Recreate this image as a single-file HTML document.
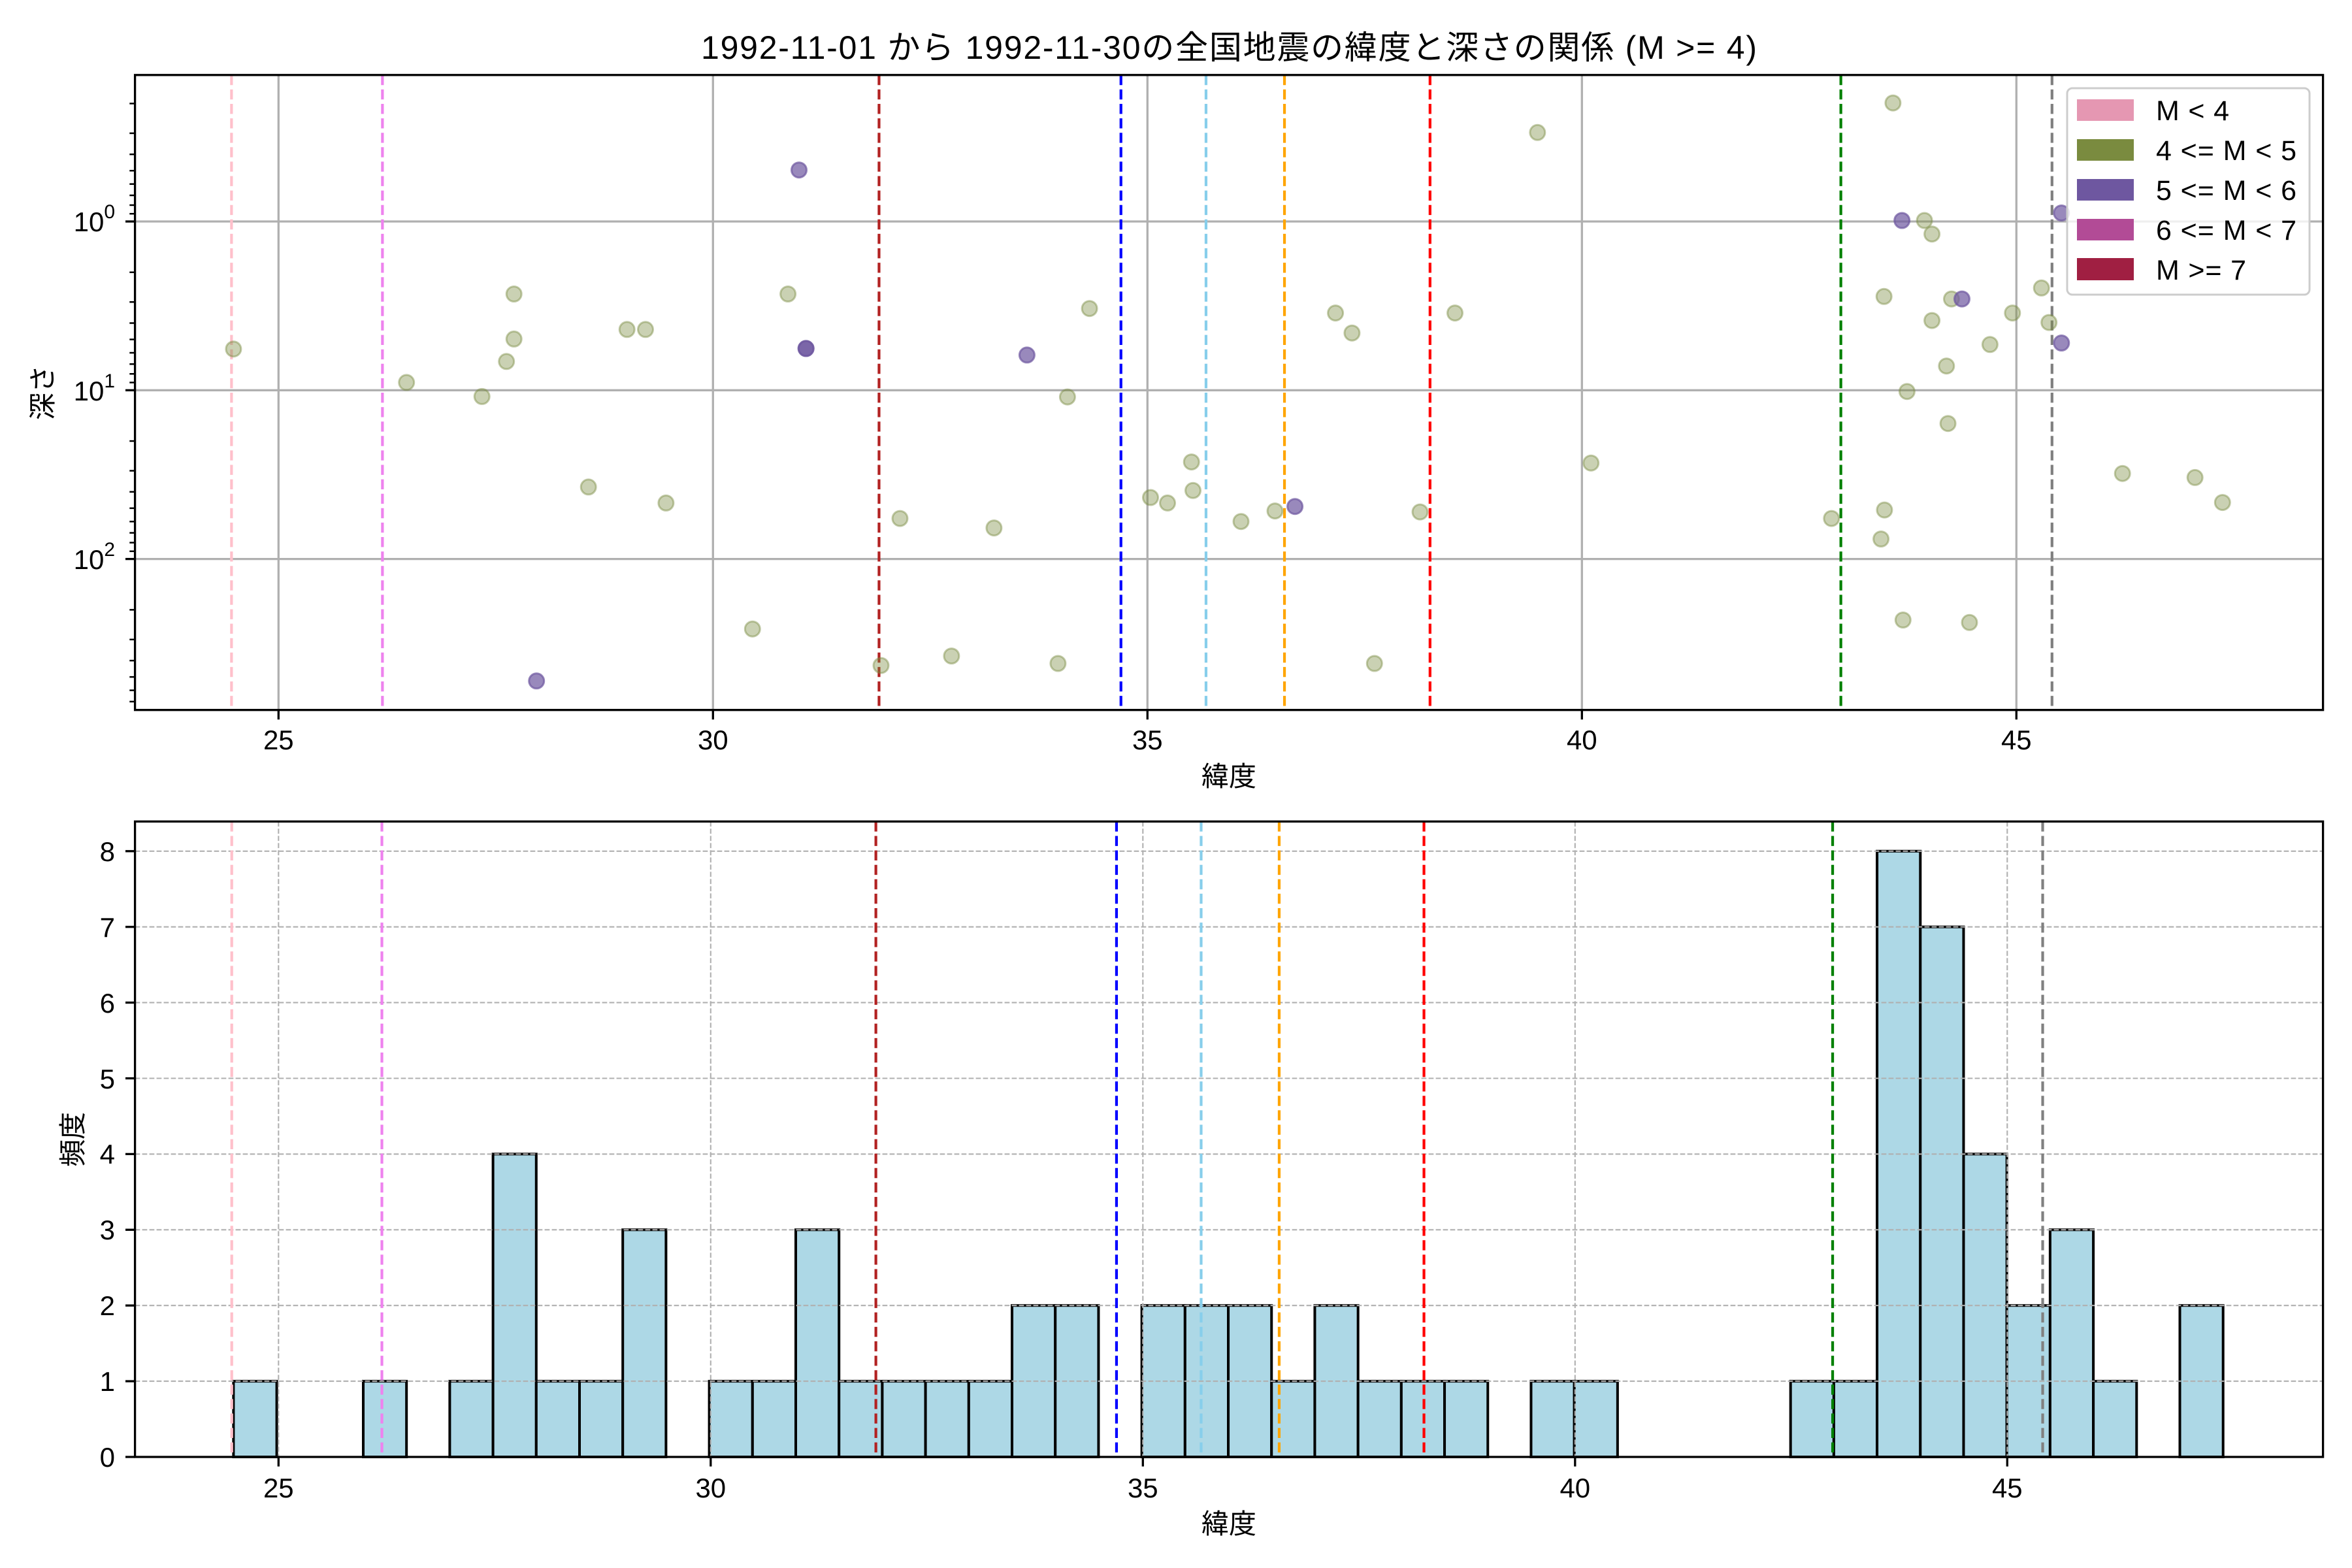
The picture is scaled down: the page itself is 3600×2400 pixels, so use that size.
<!DOCTYPE html>
<html><head><meta charset="utf-8">
<style>
html,body{margin:0;padding:0;background:#fff;}
svg{display:block;font-family:"Liberation Sans","Noto Sans CJK JP",sans-serif;}
text{fill:#000;}
</style></head>
<body>
<svg id="s" width="3600" height="2400" viewBox="0 0 3600 2400" xmlns="http://www.w3.org/2000/svg">
<rect width="3600" height="2400" fill="#fff"/>
<g id="top"></g>
<g id="bot"></g>
<text x="1881" y="90" font-size="50" text-anchor="middle" textLength="1616" lengthAdjust="spacing">1992-11-01 から 1992-11-30の全国地震の緯度と深さの関係 (M &gt;= 4)</text>
<text x="1881" y="1203" font-size="42" text-anchor="middle">緯度</text>
<text x="1881" y="2347" font-size="42" text-anchor="middle">緯度</text>
<text transform="translate(80,601) rotate(-90)" font-size="42" text-anchor="middle">深さ</text>
<text transform="translate(126,1744) rotate(-90)" font-size="42" text-anchor="middle">頻度</text>
<g font-size="42" text-anchor="middle">
<text x="426.3" y="1147">25</text>
<text x="1091.3" y="1147">30</text>
<text x="1756.3" y="1147">35</text>
<text x="2421.3" y="1147">40</text>
<text x="3086.3" y="1147">45</text>
</g>
<g font-size="42" text-anchor="end">
<text x="176" y="354">10<tspan font-size="30" dy="-20">0</tspan></text>
<text x="176" y="613">10<tspan font-size="30" dy="-20">1</tspan></text>
<text x="176" y="871">10<tspan font-size="30" dy="-20">2</tspan></text>
</g>
<g font-size="42" text-anchor="middle">
<text x="426.3" y="2292">25</text>
<text x="1087.8" y="2292">30</text>
<text x="1749.3" y="2292">35</text>
<text x="2410.8" y="2292">40</text>
<text x="3072.3" y="2292">45</text>
</g>
<g font-size="42" text-anchor="end">
<text x="176" y="2245">0</text>
<text x="176" y="2129">1</text>
<text x="176" y="2013">2</text>
<text x="176" y="1897">3</text>
<text x="176" y="1781">4</text>
<text x="176" y="1666">5</text>
<text x="176" y="1550">6</text>
<text x="176" y="1434">7</text>
<text x="176" y="1318">8</text>
</g>
<g id="legend">
<rect x="3164" y="135" width="371" height="316" rx="8" fill="#fff" fill-opacity="0.8" stroke="#cccccc" stroke-width="3"/>
<rect x="3179" y="152" width="87" height="33" fill="#e597b2"/>
<rect x="3179" y="213" width="87" height="33" fill="#7a8b3f"/>
<rect x="3179" y="274" width="87" height="33" fill="#6e57a0"/>
<rect x="3179" y="335" width="87" height="33" fill="#b24b96"/>
<rect x="3179" y="395" width="87" height="34" fill="#a01f42"/>
<g font-size="43">
<text x="3300" y="184" textLength="112" lengthAdjust="spacing">M &lt; 4</text>
<text x="3300" y="245" textLength="215" lengthAdjust="spacing">4 &lt;= M &lt; 5</text>
<text x="3300" y="306" textLength="215" lengthAdjust="spacing">5 &lt;= M &lt; 6</text>
<text x="3300" y="367" textLength="215" lengthAdjust="spacing">6 &lt;= M &lt; 7</text>
<text x="3300" y="428" textLength="138" lengthAdjust="spacing">M &gt;= 7</text>
</g>
</g>
</svg>
<script>
(function(){
var NS="http://www.w3.org/2000/svg";
function el(p,tag,a){var e=document.createElementNS(NS,tag);for(var k in a)e.setAttribute(k,a[k]);p.appendChild(e);return e;}
var top=document.getElementById('top'), bot=document.getElementById('bot');
var L=206.6,R=3555.6;
var T0=114.8,T1=1086.7;
function XT(l){return 426.3+(l-25)*133;}
function YT(lg){return 339+258.3*lg;}
[25,30,35,40,45].forEach(function(v){var x=XT(v);el(top,'line',{x1:x,x2:x,y1:T0,y2:T1,stroke:'#b0b0b0','stroke-width':3.3});});
[0,1,2].forEach(function(d){var y=YT(d);el(top,'line',{x1:L,x2:R,y1:y,y2:y,stroke:'#b0b0b0','stroke-width':3.3});});
var vl=[[24.459,'pink'],[26.196,'violet'],[31.911,'firebrick'],[34.695,'blue'],[35.674,'skyblue'],[36.577,'orange'],[38.252,'red'],[42.98,'green'],[45.41,'gray']];
vl.forEach(function(v){var x=XT(v[0]);el(top,'line',{x1:x,x2:x,y1:T0,y2:T1,stroke:v[1],'stroke-width':4.2,'stroke-dasharray':'15.4 6.7'});});
var G=[[357.4,534.2],[622.2,585.4],[737.7,606.9],[775.2,553.3],[786.7,518.9],[786.7,450],[900.7,745.4],[959.7,504.3],[988,504.3],[1019.4,769.9],[1151.8,962.7],[1206.1,450],
[1667.6,472.2],[1633.9,607.6],[1377.5,793.6],[1521.4,808.1],[1348.5,1018.6],[1456.4,1004.1],[1619.4,1015.5],[1761,761.5],[1787,769.9],[1823.7,707.1],[1826,750.8],[1899.5,798.2],[1951.5,782.1],[2044.1,479.1],[2069.4,509.7],[2103.8,1015.5],[2173.5,783.6],[2227,479.1],[2353.3,202.8],
[2435.2,708.7],[2897.4,157.6],[2945.6,337.5],[2957.1,358.2],[2883.7,453.8],[2987,457.6],[2957.1,490.6],[3080.3,479.1],[3124.7,440.8],[3136.2,493.6],[3045.9,527.3],[2979.3,560.2],[2918.9,599.2],[2981.6,648.2],[3248.7,724.7],[3359.7,730.9],[3401.8,769.1],[2884.4,780.6],[2803.3,793.6],[2879.1,825],[2912.8,949],[3014.5,952.8]];
var P=[[821.2,1042.3],[1223,260.2],[1233.7,533.4],[1233.7,533.4],[1571.9,543.4],[1982.1,775.2],[2911.2,337.5],[3003,457.6],[3155.3,525],[3155.3,326]];
G.forEach(function(p){el(top,'circle',{cx:p[0],cy:p[1],r:11.5,fill:'#7a8b42','fill-opacity':0.4,stroke:'#7a8b42','stroke-opacity':0.45,'stroke-width':3});});
P.forEach(function(p){el(top,'circle',{cx:p[0],cy:p[1],r:11.5,fill:'#6e57a0','fill-opacity':0.7,stroke:'#6e57a0','stroke-opacity':0.7,'stroke-width':3});});
for(var d=-1;d<=2;d++){for(var k=2;k<=9;k++){var lg=d+Math.log10(k);var y=YT(lg);if(y<T0||y>T1)continue;el(top,'line',{x1:L-8.3,x2:L,y1:y,y2:y,stroke:'#000','stroke-width':2.5});}}
[0,1,2].forEach(function(d){var y=YT(d);el(top,'line',{x1:L-14.6,x2:L,y1:y,y2:y,stroke:'#000','stroke-width':3.3});});
[25,30,35,40,45].forEach(function(v){var x=XT(v);el(top,'line',{x1:x,x2:x,y1:T1,y2:T1+14.6,stroke:'#000','stroke-width':3.3});});
el(top,'rect',{x:L,y:T0,width:R-L,height:T1-T0,fill:'none',stroke:'#000','stroke-width':3.3});
var B0=1257.4,B1=2230;
function XB(l){return 426.3+(l-25)*132.3;}
function YB(c){return B1-c*115.9;}
var counts={0:1,3:1,5:1,6:4,7:1,8:1,9:3,11:1,12:1,13:3,14:1,15:1,16:1,17:1,18:2,19:2,21:2,22:2,23:2,24:1,25:2,26:1,27:1,28:1,30:1,31:1,36:1,37:1,38:8,39:7,40:4,41:2,42:3,43:1,45:2};
var s0=24.479,w=0.5004;
for(var i in counts){var c=counts[i];var x0=XB(s0+w*i),x1=XB(s0+w*(+i+1));
el(bot,'rect',{x:x0,y:YB(c),width:x1-x0,height:B1-YB(c),fill:'#add8e6',stroke:'#000','stroke-width':4});}
[25,30,35,40,45].forEach(function(v){var x=XB(v);el(bot,'line',{x1:x,x2:x,y1:B0,y2:B1,stroke:'#b0b0b0','stroke-width':2.1,'stroke-dasharray':'7.7 3.3'});});
for(var c=1;c<=8;c++){var y=YB(c);el(bot,'line',{x1:L,x2:R,y1:y,y2:y,stroke:'#b0b0b0','stroke-width':2.1,'stroke-dasharray':'7.7 3.3'});}
vl.forEach(function(v){var x=XB(v[0]);el(bot,'line',{x1:x,x2:x,y1:B0,y2:B1,stroke:v[1],'stroke-width':4.2,'stroke-dasharray':'15.4 6.7'});});
for(var c=0;c<=8;c++){var y=YB(c);el(bot,'line',{x1:L-14.6,x2:L,y1:y,y2:y,stroke:'#000','stroke-width':3.3});}
[25,30,35,40,45].forEach(function(v){var x=XB(v);el(bot,'line',{x1:x,x2:x,y1:B1,y2:B1+14.6,stroke:'#000','stroke-width':3.3});});
el(bot,'rect',{x:L,y:B0,width:R-L,height:B1-B0,fill:'none',stroke:'#000','stroke-width':3.3});
})();
</script>
</body></html>
